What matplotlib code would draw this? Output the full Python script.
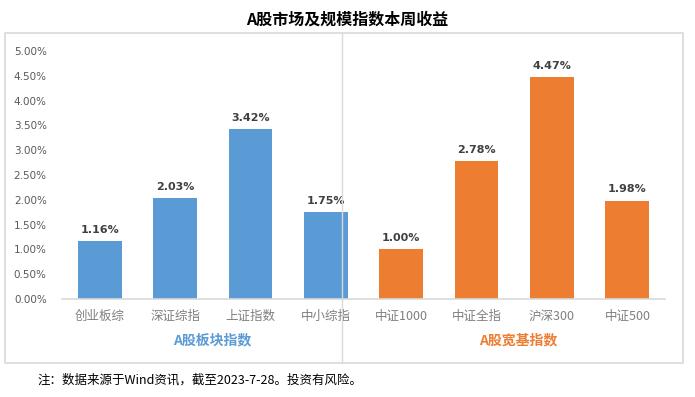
import numpy as np
import matplotlib
matplotlib.use('Agg')
import matplotlib.pyplot as plt
from matplotlib.patches import Rectangle
from matplotlib.lines import Line2D

plt.rcParams['font.family'] = ['Noto Sans CJK SC', 'DejaVu Sans']

categories = ['创业板综', '深证综指', '上证指数', '中小综指', '中证1000', '中证全指', '沪深300', '中证500']
returns = [1.16, 2.03, 3.42, 1.75, 1.00, 2.78, 4.47, 1.98]
groups = ['A股板块指数', 'A股宽基指数']
group_sizes = [4, 4]
yticks = [0, 0.5, 1.0, 1.5, 2.0, 2.5, 3.0, 3.5, 4.0, 4.5, 5.0]

blue = '#5B9BD5'
orange = '#ED7D31'
group_colors = [blue, orange]
bar_colors = [blue] * group_sizes[0] + [orange] * group_sizes[1]

W, H = 695, 397
fig = plt.figure(figsize=(W / 100, H / 100), dpi=100)
ax = fig.add_axes([62 / W, 1 - 299 / H, (665 - 62) / W, (299 - 51) / H])

x = np.arange(len(categories))
ax.bar(x, returns, width=0.58, color=bar_colors, zorder=2)
for xi, v in zip(x, returns):
    ax.text(xi, v + 0.13, f'{v:.2f}%', ha='center', va='bottom',
            fontsize=8, fontweight='bold', color='#404040', family='DejaVu Sans')

ax.set_xlim(-0.5, len(categories) - 0.5)
ax.set_ylim(0, 5)
ax.set_yticks(yticks)
ax.set_yticklabels([f'{t:.2f}%' for t in yticks], fontsize=7.5, color='#595959',
                   family='DejaVu Sans')
ax.set_xticks(x)
ax.set_xticklabels(categories, fontsize=9, color='#7f7f7f')
ax.tick_params(axis='both', length=0)
ax.tick_params(axis='y', pad=11)
ax.tick_params(axis='x', pad=8)
for s in ['top', 'right', 'left']:
    ax.spines[s].set_visible(False)
ax.spines['bottom'].set_color('#D9D9D9')
ax.spines['bottom'].set_linewidth(1.2)

# outer chart border and group divider
fig.patches.append(Rectangle((5 / W, 1 - 363 / H), (683 - 5) / W, (363 - 33) / H,
                             transform=fig.transFigure, fill=False,
                             edgecolor='#D9D9D9', linewidth=1.2))
fig.lines.append(Line2D([342 / W, 342 / W], [1 - 363 / H, 1 - 33 / H],
                        transform=fig.transFigure, color='#D9D9D9', linewidth=1))

# group labels
group_x = [212, 518]
for gx, name, c in zip(group_x, groups, group_colors):
    fig.text(gx / W, 1 - 340 / H, name, ha='center', va='center',
             fontsize=10, fontweight='bold', color=c)

fig.text(0.5, 1 - 20 / H, 'A股市场及规模指数本周收益', ha='center', va='center',
         fontsize=11.5, fontweight='bold', color='black')
fig.text(37 / W, 1 - 380 / H, '注：数据来源于Wind资讯，截至2023-7-28。投资有风险。',
         ha='left', va='center', fontsize=9, color='black')

fig.savefig('out.png', dpi=100)
